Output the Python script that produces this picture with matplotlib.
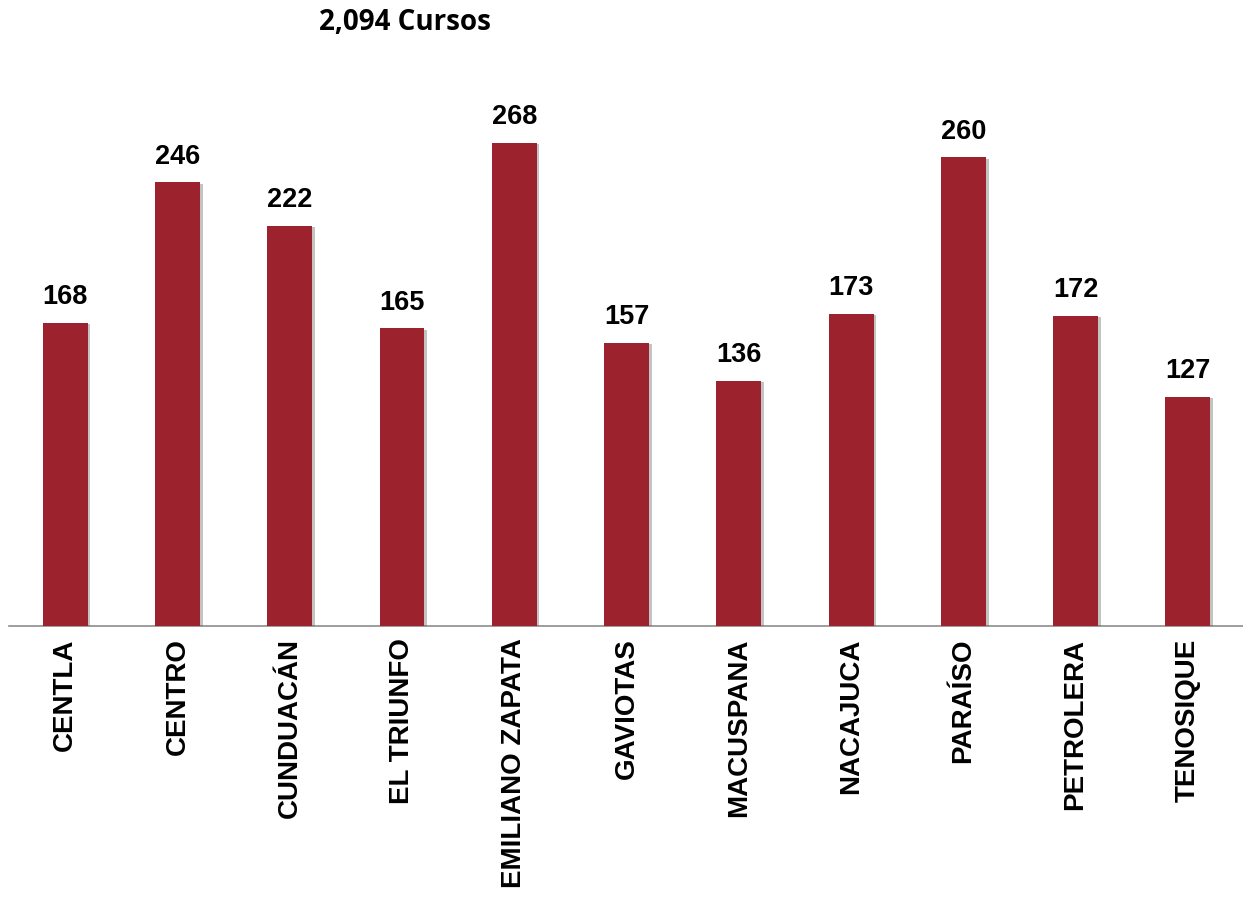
import matplotlib
matplotlib.use("Agg")
import matplotlib.pyplot as plt
import matplotlib.patheffects as pe

# Cursos por municipio
municipios = ["CENTLA", "CENTRO", "CUNDUACÁN", "EL TRIUNFO", "EMILIANO ZAPATA",
              "GAVIOTAS", "MACUSPANA", "NACAJUCA", "PARAÍSO", "PETROLERA", "TENOSIQUE"]
cursos = [168, 246, 222, 165, 268, 157, 136, 173, 260, 172, 127]
titulo = "2,094 Cursos"

bar_color = "#9C232D"

fig = plt.figure(figsize=(12.43, 8.99), dpi=100)
ax = fig.add_axes([9 / 1243, 273 / 899, 1235 / 1243, 541 / 899])

x = range(len(municipios))
bars = ax.bar(x, cursos, width=0.4, color=bar_color, zorder=3)
for b in bars:
    b.set_path_effects([pe.SimplePatchShadow(offset=(2, -1), shadow_rgbFace="#555555", alpha=0.35),
                        pe.Normal()])

for xi, v in zip(x, cursos):
    ax.text(xi, v + 7, str(v), ha="center", va="bottom", fontsize=19.5,
            fontweight="bold", family="Liberation Sans", color="black")

ax.set_xlim(-0.5, len(municipios) - 0.5)
ax.set_ylim(0, 300)
ax.set_yticks([])
ax.set_xticks(list(x))
ax.set_xticklabels(municipios, rotation=90, fontsize=20, fontweight="bold",
                   family="Liberation Sans", va="top", ha="center")
ax.tick_params(axis="x", length=0, pad=9)

for s in ["top", "right", "left"]:
    ax.spines[s].set_visible(False)
ax.spines["bottom"].set_color("#8c8c8c")
ax.spines["bottom"].set_linewidth(1.2)

fig.text(405 / 1243, 1 - 22 / 899, titulo, ha="center", va="center",
         fontsize=20, fontweight="bold", family="Open Sans")

fig.savefig("out.png", dpi=100, facecolor="white")
